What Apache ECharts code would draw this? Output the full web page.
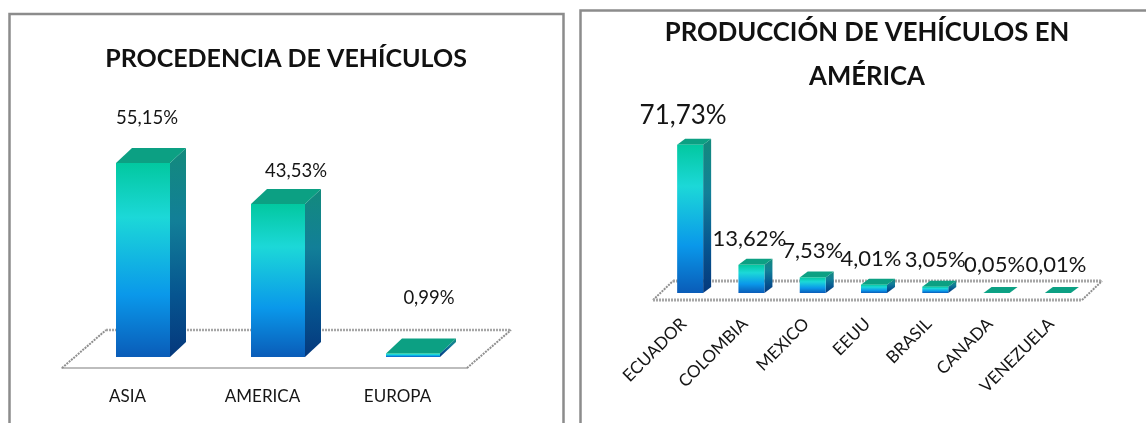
<!DOCTYPE html>
<html>
<head>
<meta charset="utf-8">
<style>html,body{margin:0;padding:0;background:#fff}#chart{width:1146px;height:423px}</style>
<script src="https://cdn.jsdelivr.net/npm/echarts@6/dist/echarts.min.js"></script>
</head>
<body>
<div id="chart"></div>
<script>
// Origin of vehicles
const originCategories = ['ASIA', 'AMERICA', 'EUROPA'];
const originValues = [55.15, 43.53, 0.99];
// Vehicle production in America
const productionCategories = ['ECUADOR', 'COLOMBIA', 'MEXICO', 'EEUU', 'BRASIL', 'CANADA', 'VENEZUELA'];
const productionValues = [71.73, 13.62, 7.53, 4.01, 3.05, 0.05, 0.01];

// Hand-placed value label nudges, [dx, dy] from the top of each column
const originLabelNudges = [[4, -45], [18, -33], [16, -55]];
const productionLabelNudges = [[-7, -29], [-2, -26], [0, -27], [-3, -26], [0, -27], [-2, -28], [-2, -28]];
// Value label sizes in pixels
const originLabelSizes = [18.5, 18.5, 18.5];
const productionLabelSizes = [26, 22, 22, 22, 22, 22, 22];

const FONT = 'Lato, "Noto Sans", sans-serif';
const percent = v => v.toFixed(2).replace('.', ',') + '%';

const frontFill = new echarts.graphic.LinearGradient(0, 0, 0, 1, [
  { offset: 0, color: '#02c8a0' }, { offset: 0.28, color: '#1cd8d8' },
  { offset: 0.68, color: '#0a98ea' }, { offset: 1, color: '#0a5cb8' }
]);
const sideFill = new echarts.graphic.LinearGradient(0, 0, 0, 1, [
  { offset: 0, color: '#138a7c' }, { offset: 0.35, color: '#127f98' },
  { offset: 0.7, color: '#065590' }, { offset: 1, color: '#05387c' }
]);
const TOP_FACE = '#0ca083';

// Column drawn as three faces: front, right side and top
function columnSeries(xAxisIndex, values, nudges, sizes, look) {
  return {
    type: 'custom', xAxisIndex, yAxisIndex: xAxisIndex, z: 3, clip: false,
    data: values.map((v, i) => [i, v]),
    encode: { x: 0, y: 1 },
    renderItem(params, api) {
      const i = api.value(0), v = api.value(1);
      const top = api.coord([i, v]), base = api.coord([i, 0]);
      const w = api.size([1, 0])[0] * look.widthRatio;
      const x0 = top[0] + look.shiftX - w / 2, x1 = x0 + w;
      const yt = top[1] + look.shiftY, yb = base[1] + look.shiftY;
      const dx = look.depthX, dy = look.depthY;
      const poly = (points, fill) => ({ type: 'polygon', shape: { points }, style: { fill } });
      const n = nudges[i];
      return {
        type: 'group',
        children: [
          poly([[x1, yt], [x1 + dx, yt + dy], [x1 + dx, yb + dy], [x1, yb]], sideFill),
          poly([[x0, yt], [x0 + dx, yt + dy], [x1 + dx, yt + dy], [x1, yt]], TOP_FACE),
          { type: 'rect', shape: { x: x0, y: yt, width: w, height: yb - yt }, style: { fill: frontFill } },
          {
            type: 'text', x: x0 + w / 2 + n[0], y: yt + n[1],
            style: { text: percent(v), fill: '#151515', font: sizes[i] + 'px ' + FONT, align: 'center', verticalAlign: 'middle' }
          }
        ]
      };
    }
  };
}

// Floor of the plot: a dotted back edge and dotted slanted sides behind the columns
function floorSeries(xAxisIndex, look) {
  return {
    type: 'custom', xAxisIndex, yAxisIndex: xAxisIndex, z: 1, clip: false, silent: true,
    data: [[0, 0]], encode: { x: 0, y: 1 },
    renderItem(params) {
      const c = params.coordSys;
      const yf = c.y + c.height, xl = c.x, xr = c.x + c.width;
      const edge = (a, b, stroke, width) => ({
        type: 'line',
        shape: { x1: a[0], y1: a[1], x2: b[0], y2: b[1] },
        style: { stroke, lineWidth: width, lineDash: [2, 1] }
      });
      const kids = [
        edge([xl + look.floorX, yf + look.floorY], [xr + look.floorX, yf + look.floorY], '#a6a6a6', look.edgeWidth),
        edge([xl, yf], [xl + look.floorX, yf + look.floorY], '#8f8f8f', 2),
        edge([xr, yf], [xr + look.floorX, yf + look.floorY], '#8f8f8f', 2)
      ];
      if (look.dottedFront) kids.push(edge([xl, yf], [xr, yf], '#a6a6a6', look.edgeWidth));
      return { type: 'group', children: kids };
    }
  };
}

const originLook = {
  widthRatio: 0.4, shiftX: 13.5, shiftY: -11, depthX: 16, depthY: -15,
  floorX: 44, floorY: -38, edgeWidth: 2.5, dottedFront: false
};
const productionLook = {
  widthRatio: 0.424, shiftX: 6.5, shiftY: -7, depthX: 8, depthY: -6,
  floorX: 20, floorY: -19, edgeWidth: 3, dottedFront: true
};

const panelEdge = '#8c8c8c';
const panel = (x, y, right) => ({
  type: 'polyline', silent: true,
  shape: { points: [[x, 423], [x, y], [right, y], [right, 423]] },
  style: { stroke: panelEdge, lineWidth: 2.5, fill: 'none' }
});

const chart = echarts.init(document.getElementById('chart'), null, { renderer: 'canvas' });
chart.setOption({
  animation: false,
  backgroundColor: '#fff',
  graphic: [panel(9.5, 14, 563.5), panel(580.5, 10.5, 1150)],
  title: [
    { text: 'PROCEDENCIA DE VEHÍCULOS', left: 286, top: 46, textAlign: 'center', padding: 0,
      textStyle: { fontFamily: FONT, fontWeight: 'bold', fontSize: 25, color: '#111' } },
    { text: 'PRODUCCIÓN DE VEHÍCULOS EN\nAMÉRICA', left: 867, top: 11, textAlign: 'center', padding: 0,
      textStyle: { fontFamily: FONT, fontWeight: 'bold', fontSize: 25.7, color: '#111', lineHeight: 44 } }
  ],
  grid: [
    { left: 62, width: 405, top: 157, height: 211 },
    { left: 653, width: 429, top: 145, height: 155 }
  ],
  xAxis: [
    { gridIndex: 0, type: 'category', data: originCategories,
      axisLine: { lineStyle: { color: '#a8a8a8', width: 1.5 } }, axisTick: { show: false },
      axisLabel: { fontFamily: FONT, fontSize: 17, color: '#151515', margin: 20, padding: [0, 4, 0, 0] } },
    { gridIndex: 1, type: 'category', data: productionCategories,
      axisLine: { show: false }, axisTick: { show: false },
      axisLabel: { fontFamily: FONT, fontSize: 17, color: '#151515', rotate: 45, margin: 21, interval: 0 } }
  ],
  yAxis: [
    { gridIndex: 0, type: 'value', min: 0, max: 60, show: false },
    { gridIndex: 1, type: 'value', min: 0, max: 75, show: false }
  ],
  series: [
    floorSeries(0, originLook),
    columnSeries(0, originValues, originLabelNudges, originLabelSizes, originLook),
    floorSeries(1, productionLook),
    columnSeries(1, productionValues, productionLabelNudges, productionLabelSizes, productionLook)
  ]
});
</script>
</body>
</html>
